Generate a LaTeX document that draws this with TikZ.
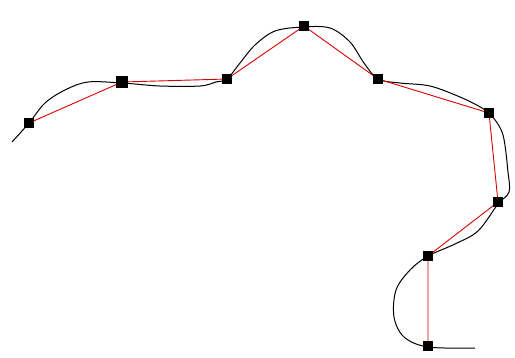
\documentclass[tikz,border=0pt]{standalone}
\begin{document}
\begin{tikzpicture}[x=1pt,y=-1pt,
  pt/.style={fill=black,inner sep=0pt,minimum size=10pt,draw=none},
  bigpt/.style={pt,minimum size=12pt},
  curve/.style={black,line width=1pt},
  poly/.style={red!85!black,line width=0.9pt}]
\useasboundingbox (0,0) rectangle (515,357);
\draw[curve] plot[smooth,tension=0.55] coordinates {(12,142) (29,123) (45,103) (65,90) (88,82) (122,83) (160,86) (200,86) (216,82) (227,79) (240,63) (255,45) (275,31) (303,27) (330,28) (350,42) (364,63) (378,79) (400,83) (430,86) (460,97) (482,108) (492,116) (503,135) (508,172) (509,192) (498,204) (478,231) (455,244) (428,256) (410,270) (396,290) (394,317) (404,337) (428,347) (475,348)};
\coordinate (p1) at (29,123);
\coordinate (p2) at (122,82);
\coordinate (p3) at (227,79);
\coordinate (p4) at (304,26);
\coordinate (p5) at (378,79);
\coordinate (p6) at (489,113);
\coordinate (p7) at (498,202);
\coordinate (p8) at (428,256);
\coordinate (p9) at (428,346);
\draw[poly] (p1) -- (p2) -- (p3) -- (p4) -- (p5) -- (p6) -- (p7) -- (p8) -- (p9);
\node[pt] (n1) at (p1) {};
\node[bigpt] (n2) at (p2) {};
\node[pt] (n3) at (p3) {};
\node[pt] (n4) at (p4) {};
\node[pt] (n5) at (p5) {};
\node[pt] (n6) at (p6) {};
\node[pt] (n7) at (p7) {};
\node[pt] (n8) at (p8) {};
\node[pt] (n9) at (p9) {};
\end{tikzpicture}
\end{document}
